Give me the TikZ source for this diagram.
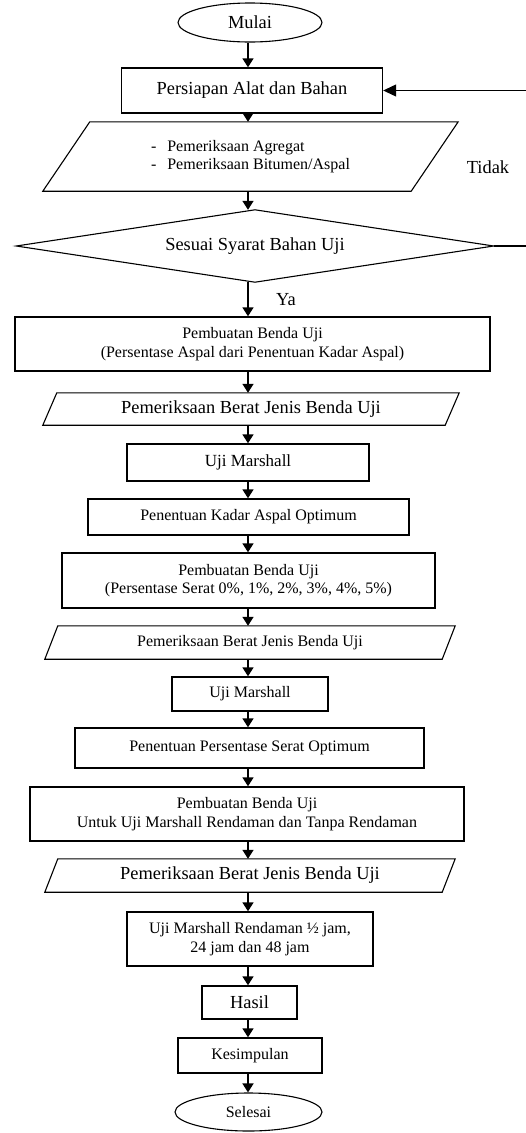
\documentclass[tikz,border=0pt]{standalone}
\usepackage{fontspec}
\setmainfont{Liberation Serif}
\usetikzlibrary{shapes.geometric,arrows.meta,positioning,calc}

\newcommand{\besar}{\fontsize{18.4}{21}\selectfont}
\newcommand{\kecil}{\fontsize{16}{18.5}\selectfont}

\begin{document}
\begin{tikzpicture}[x=1pt, y=-1pt,
    proses/.style={draw, line width=1.4pt, inner sep=0pt, align=center, font=\kecil},
    data/.style={inner sep=0pt, align=center, font=\kecil},
    keputusan/.style={inner sep=0pt, font=\besar},
    terminal/.style={draw, ellipse, line width=1.1pt, inner sep=0pt, font=\besar},
    garis/.style={line width=1.1pt},
    panah/.style={line width=1.5pt, -{Triangle[length=9pt, width=11pt]}},
    balik/.style={line width=1.2pt, -{Triangle[length=13pt, width=12pt]}}]
    \useasboundingbox (0,0) rectangle (526,1133);

    % Draw nodes
    \node[terminal, minimum width=144pt, minimum height=39pt] (mulai) at (250,22.5) {Mulai};
    \node[proses, minimum width=261pt, minimum height=45pt, font=\besar] (siap) at (252,90.5) {Persiapan Alat dan Bahan};
    \node[data, minimum width=415pt, minimum height=69pt, align=left] (periksa) at (250.5,156.5) {-\hspace{11pt}Pemeriksaan Agregat\\-\hspace{11pt}Pemeriksaan Bitumen/Aspal};
    \node[keputusan, minimum width=477pt, minimum height=72pt] (syarat) at (255,246) {Sesuai Syarat Bahan Uji};
    \node[proses, minimum width=475pt, minimum height=54pt] (benda1) at (252.5,344) {Pembuatan Benda Uji\\(Persentase Aspal dari Penentuan Kadar Aspal)};
    \node[data, minimum width=416pt, minimum height=32pt, font=\besar] (bj1) at (251,409) {Pemeriksaan Berat Jenis Benda Uji};
    \node[proses, minimum width=242pt, minimum height=37pt, font=\fontsize{17}{20}\selectfont] (marshall1) at (248,462.5) {Uji Marshall};
    \node[proses, minimum width=321pt, minimum height=36pt] (kadar) at (248.5,517) {Penentuan Kadar Aspal Optimum};
    \node[proses, minimum width=373pt, minimum height=55pt] (benda2) at (248.5,580.5) {Pembuatan Benda Uji\\(Persentase Serat 0\%, 1\%, 2\%, 3\%, 4\%, 5\%)};
    \node[data, minimum width=410pt, minimum height=33pt] (bj2) at (250,642.5) {Pemeriksaan Berat Jenis Benda Uji};
    \node[proses, minimum width=156pt, minimum height=34pt] (marshall2) at (250,694) {Uji Marshall};
    \node[proses, minimum width=349pt, minimum height=40pt] (serat) at (249.5,748) {Penentuan Persentase Serat Optimum};
    \node[proses, minimum width=434pt, minimum height=54pt] (benda3) at (247,814) {Pembuatan Benda Uji\\Untuk Uji Marshall Rendaman dan Tanpa Rendaman};
    \node[data, minimum width=410pt, minimum height=33pt, font=\besar] (bj3) at (250,875.5) {Pemeriksaan Berat Jenis Benda Uji};
    \node[proses, minimum width=246pt, minimum height=54pt] (rendam) at (250,939) {Uji Marshall Rendaman ½ jam,\\24 jam dan 48 jam};
    \node[proses, minimum width=95pt, minimum height=33pt, font=\besar] (hasil) at (249.5,1002.5) {Hasil};
    \node[proses, minimum width=144pt, minimum height=35pt] (simpul) at (250,1055.5) {Kesimpulan};
    \node[terminal, minimum width=147pt, minimum height=38pt, font=\kecil] (selesai) at (248.5,1112) {Selesai};

    % Parallelogram and diamond outlines
    \foreach \n/\s in {periksa/47, bj1/14, bj2/13, bj3/13} {
        \draw[garis] ($(\n.north west)+(\s,0)$) -- (\n.north east) -- ($(\n.south east)-(\s,0)$) -- (\n.south west) -- cycle;
    }
    \draw[garis] (syarat.north) -- (syarat.east) -- (syarat.south) -- (syarat.west) -- cycle;

    % Arrows
    \coordinate (spine) at (248,0);
    \coordinate (kanan) at (532,0);
    \foreach \a/\b in {mulai/siap, siap/periksa, periksa/syarat, syarat/benda1, benda1/bj1, bj1/marshall1,
        marshall1/kadar, kadar/benda2, benda2/bj2, bj2/marshall2, marshall2/serat, serat/benda3,
        benda3/bj3, bj3/rendam, rendam/hasil, hasil/simpul, simpul/selesai} {
        \draw[panah] (\a.south -| spine) -- (\b.north -| spine);
    }
    \draw[balik] (syarat.east) -- (syarat.east -| kanan) |- (siap.east);

    % Labels
    \node[font=\besar] (ya) at (286,300) {Ya};
    \node[font=\besar] (tidak) at (488,167) {Tidak};
\end{tikzpicture}
\end{document}
